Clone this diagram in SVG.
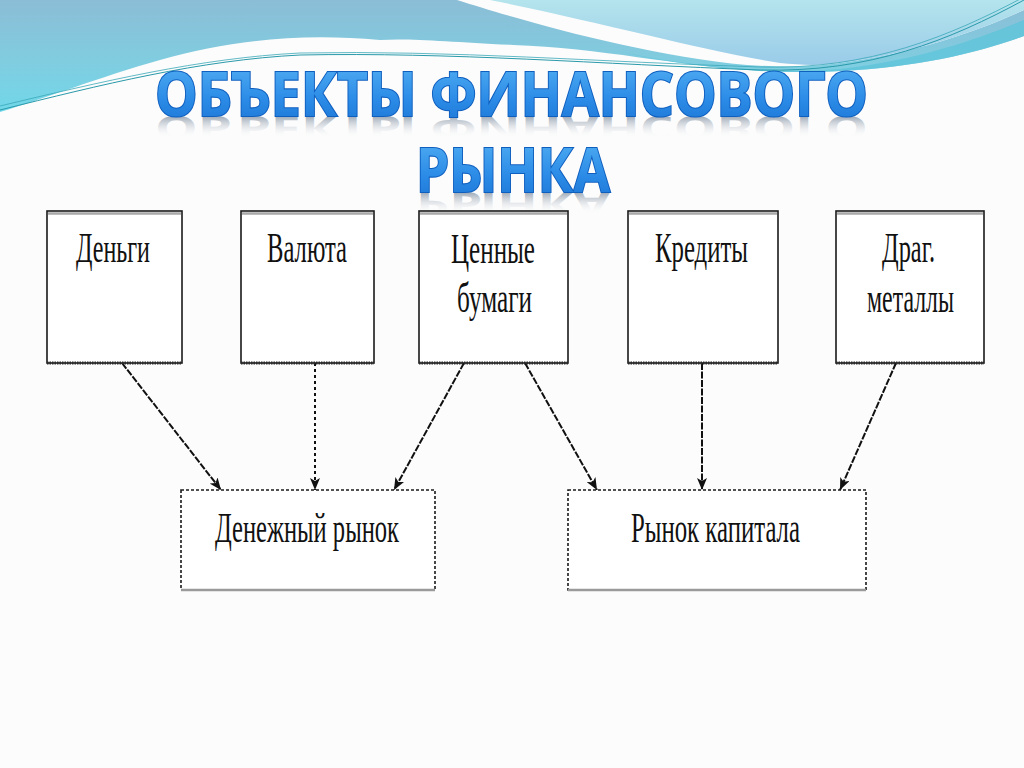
<svg xmlns="http://www.w3.org/2000/svg" width="1024" height="768" viewBox="0 0 1024 768">
<defs>
  <linearGradient id="gA" x1="0" y1="0" x2="0" y2="115" gradientUnits="userSpaceOnUse">
    <stop offset="0" stop-color="#8bbdd6"/>
    <stop offset="0.55" stop-color="#80cde0"/>
    <stop offset="1" stop-color="#6fd8ea"/>
  </linearGradient>
  <linearGradient id="gB" x1="0" y1="0" x2="0" y2="66" gradientUnits="userSpaceOnUse">
    <stop offset="0" stop-color="#b4e4ec"/>
    <stop offset="1" stop-color="#99cbe9"/>
  </linearGradient>
  <linearGradient id="gT" x1="0" y1="0" x2="0" y2="1">
    <stop offset="0" stop-color="#5cb8f6"/>
    <stop offset="0.6" stop-color="#2a8ae6"/>
    <stop offset="1" stop-color="#1a70d0"/>
  </linearGradient>
  <linearGradient id="gR1" x1="0" y1="116" x2="0" y2="76" gradientUnits="userSpaceOnUse">
    <stop offset="0" stop-color="#8a98a8" stop-opacity="0.85"/>
    <stop offset="1" stop-color="#ffffff" stop-opacity="0"/>
  </linearGradient>
  <linearGradient id="gR2" x1="0" y1="192" x2="0" y2="152" gradientUnits="userSpaceOnUse">
    <stop offset="0" stop-color="#8a98a8" stop-opacity="0.85"/>
    <stop offset="1" stop-color="#ffffff" stop-opacity="0"/>
  </linearGradient>
  <marker id="ah" viewBox="0 0 12 10" refX="12" refY="5" markerWidth="12" markerHeight="10" markerUnits="userSpaceOnUse" orient="auto">
    <path d="M0,0 L12,5 L0,10 L3,5 Z" fill="#111"/>
  </marker>
</defs>
<style>
  .title { font-family: "Open Sans", "Liberation Sans", sans-serif; font-weight: bold; font-size: 61px; }
  .tmain { fill: url(#gT); stroke: #0f5fbf; stroke-width: 2.2; paint-order: stroke; }
  .box { fill: #ffffff; stroke: #1a1a1a; stroke-width: 1.6; }
  .boxb { fill: #ffffff; stroke: #1a1a1a; stroke-width: 1.6; stroke-dasharray: 3 2; }
  .toph { stroke: #a8a8a8; stroke-width: 2.5; }
  .both { stroke: #2a2a2a; stroke-width: 3; stroke-dasharray: 1.5 1; }
  .botg { stroke: #9a9a9a; stroke-width: 2.5; }
  .lbl { font-family: "Liberation Serif", "DejaVu Serif", serif; font-size: 42px; fill: #111; }
  .con { stroke: #111; stroke-width: 2; fill: none; stroke-dasharray: 7 1.5; }
  .dot { stroke: #111; stroke-width: 2; fill: none; stroke-dasharray: 3 3; }
</style>
<rect width="1024" height="768" fill="#fcfcfc"/>
<g id="background">
  <path d="M0,0 H457 C520,20 640,55 747,65 C790,68 820,66 840,63 C920,52 980,30 1024,10 V36 C980,52 920,67 840,71 C800,73 770,72 747,70 C680,66 600,48 513,45 C450,42 410,38 380,40 C300,33 230,40 160,60 C100,77 40,100 0,112 Z" fill="url(#gA)"/>
  <path d="M490,0 H1024 V10 C980,30 920,52 840,63 C820,66 800,65 780,63 C700,50 600,22 490,0 Z" fill="url(#gB)"/>
  <path d="M620,52 C700,68 780,74 840,69 C920,60 980,38 1024,20 V36 C980,52 920,67 840,71 C790,74 700,70 620,52 Z" fill="#5fc4da" opacity="0.8"/>
  <path d="M0,110 C100,85 200,60 300,55 C450,52 600,64 760,70 C870,73 950,40 1024,0" fill="none" stroke="#2a9aaa" stroke-width="1"/>
  <path d="M0,106 C100,82 200,58 300,53 C450,50 600,62 760,67 C870,70 950,36 1024,-3" fill="none" stroke="#3aa8b8" stroke-width="0.8"/>
</g>
<g id="title">
  <text class="title" x="155" y="116" textLength="713" lengthAdjust="spacingAndGlyphs" fill="url(#gR1)" transform="translate(0,116) scale(1,-0.55) translate(0,-116)">ОБЪЕКТЫ ФИНАНСОВОГО</text>
  <text class="title" x="416" y="192" textLength="194" lengthAdjust="spacingAndGlyphs" fill="url(#gR2)" transform="translate(0,192) scale(1,-0.55) translate(0,-192)">РЫНКА</text>
  <text class="title tmain" x="155" y="116" textLength="713" lengthAdjust="spacingAndGlyphs">ОБЪЕКТЫ ФИНАНСОВОГО</text>
  <text class="title tmain" x="416" y="192" textLength="194" lengthAdjust="spacingAndGlyphs">РЫНКА</text>
</g>
<g id="connectors">
  <line class="con" x1="122" y1="363" x2="221" y2="490" marker-end="url(#ah)"/>
  <line class="dot" x1="315" y1="363" x2="315" y2="490" marker-end="url(#ah)"/>
  <line class="con" x1="464" y1="363" x2="394" y2="490" marker-end="url(#ah)"/>
  <line class="con" x1="525" y1="363" x2="597" y2="490" marker-end="url(#ah)"/>
  <line class="con" x1="702" y1="363" x2="702" y2="490" marker-end="url(#ah)"/>
  <line class="con" x1="896" y1="363" x2="840" y2="490" marker-end="url(#ah)"/>
</g>
<g id="n1">
  <rect class="box" x="47" y="211" width="135" height="152"/>
  <line class="toph" x1="48" y1="213.5" x2="181" y2="213.5"/>
  <line class="both" x1="47" y1="363" x2="182" y2="363"/>
  <text class="lbl" x="76" y="262" textLength="74" lengthAdjust="spacingAndGlyphs">Деньги</text>
</g>
<g id="n2">
  <rect class="box" x="241" y="211" width="133" height="152"/>
  <line class="toph" x1="242" y1="213.5" x2="373" y2="213.5"/>
  <line class="both" x1="241" y1="363" x2="374" y2="363"/>
  <text class="lbl" x="267" y="262" textLength="80" lengthAdjust="spacingAndGlyphs">Валюта</text>
</g>
<g id="n3">
  <rect class="box" x="419" y="211" width="149" height="152"/>
  <line class="toph" x1="420" y1="213.5" x2="567" y2="213.5"/>
  <line class="both" x1="419" y1="363" x2="568" y2="363"/>
  <text class="lbl" x="451" y="263" textLength="84" lengthAdjust="spacingAndGlyphs">Ценные</text>
  <text class="lbl" x="457" y="312" textLength="75" lengthAdjust="spacingAndGlyphs">бумаги</text>
</g>
<g id="n4">
  <rect class="box" x="628" y="211" width="150" height="152"/>
  <line class="toph" x1="629" y1="213.5" x2="777" y2="213.5"/>
  <line class="both" x1="628" y1="363" x2="778" y2="363"/>
  <text class="lbl" x="655" y="262" textLength="93" lengthAdjust="spacingAndGlyphs">Кредиты</text>
</g>
<g id="n5">
  <rect class="box" x="836" y="211" width="148" height="152"/>
  <line class="toph" x1="837" y1="213.5" x2="983" y2="213.5"/>
  <line class="both" x1="836" y1="363" x2="984" y2="363"/>
  <text class="lbl" x="882" y="262" textLength="53" lengthAdjust="spacingAndGlyphs">Драг.</text>
  <text class="lbl" x="867" y="312" textLength="87" lengthAdjust="spacingAndGlyphs">металлы</text>
</g>
<g id="n6">
  <rect class="boxb" x="181" y="490" width="254" height="100"/>
  <line class="botg" x1="181" y1="590" x2="435" y2="590"/>
  <text class="lbl" x="215" y="542" textLength="184" lengthAdjust="spacingAndGlyphs">Денежный рынок</text>
</g>
<g id="n7">
  <rect class="boxb" x="568" y="490" width="298" height="100"/>
  <line class="botg" x1="568" y1="590" x2="866" y2="590"/>
  <text class="lbl" x="631" y="542" textLength="169" lengthAdjust="spacingAndGlyphs">Рынок капитала</text>
</g>
</svg>
